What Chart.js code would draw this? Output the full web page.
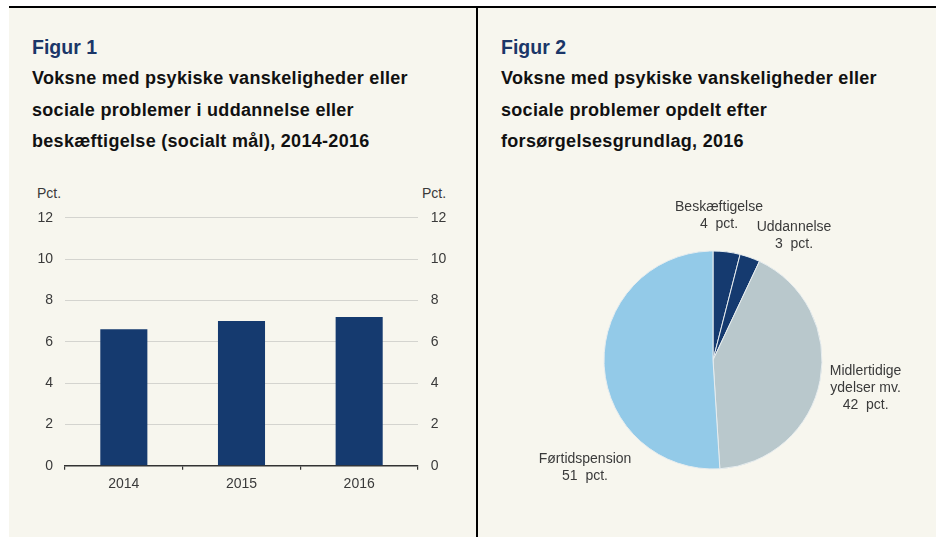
<!DOCTYPE html>
<html>
<head>
<meta charset="utf-8">
<script src="https://cdn.jsdelivr.net/npm/chart.js@4/dist/chart.umd.min.js"></script>
<style>
  html, body { margin: 0; padding: 0; background: #ffffff; width: 936px; height: 537px; overflow: hidden; }
  body { position: relative; font-family: "Liberation Sans", Arial, sans-serif; }
  #panel { position: absolute; left: 9px; top: 8px; width: 927px; height: 529px; background: #f7f6ee; }
  #topline { position: absolute; left: 9px; top: 6px; width: 927px; height: 2px; background: #000; }
  #vline { position: absolute; left: 476px; top: 6px; width: 2px; height: 531px; background: #000; }
  .fig { position: absolute; font-weight: bold; font-size: 19.5px; color: #1b3668; line-height: 24px; }
  .title { position: absolute; font-weight: bold; font-size: 18px; letter-spacing: 0.3px; color: #111; line-height: 31.5px; white-space: nowrap; }
  .unit { position: absolute; font-size: 14px; color: #3a3a3a; line-height: 16px; }
  canvas { position: absolute; }
</style>
</head>
<body>
<div id="panel"></div>
<div id="topline"></div>
<div id="vline"></div>

<div class="fig" style="left:32px; top:35px;">Figur 1</div>
<div class="title" style="left:32px; top:63px;">Voksne med psykiske vanskeligheder eller<br>sociale problemer i uddannelse eller<br>beskæftigelse (socialt mål), 2014-2016</div>
<div class="unit" style="left:37px; top:185px;">Pct.</div>
<div class="unit" style="left:422px; top:185px;">Pct.</div>

<div class="fig" style="left:501px; top:35px;">Figur 2</div>
<div class="title" style="left:501px; top:63px;">Voksne med psykiske vanskeligheder eller<br>sociale problemer opdelt efter<br>forsørgelsesgrundlag, 2016</div>

<canvas id="bar" width="476" height="345" style="left:0px; top:160px;"></canvas>
<canvas id="pie" width="458" height="357" style="left:478px; top:180px;"></canvas>

<script>
// ---- Figur 1 data ----
const years = ["2014", "2015", "2016"];
const shareValues = [6.6, 7.0, 7.2];
const yTicks = [0, 2, 4, 6, 8, 10, 12];

// ---- Figur 2 data ----
const pieCategories = [["Beskæftigelse"], ["Uddannelse"], ["Midlertidige", "ydelser mv."], ["Førtidspension"]];
const pieValues = [4, 3, 42, 51];
const pieColors = ["#153a6f", "#153a6f", "#b9c8cc", "#93cae8"];

const FONT = "'Liberation Sans', Arial, sans-serif";
const TXT = "#3a3a3a";
Chart.defaults.font.family = FONT;
Chart.defaults.font.size = 14;
Chart.defaults.color = TXT;
Chart.defaults.animation = false;

// Bar chart
new Chart(document.getElementById("bar"), {
  type: "bar",
  data: {
    labels: years,
    datasets: [{
      data: shareValues,
      backgroundColor: "#153a6f",
      borderWidth: 0,
      categoryPercentage: 1.0,
      barPercentage: 0.4,
      yAxisID: "y"
    }]
  },
  options: {
    responsive: false,
    devicePixelRatio: 1,
    layout: { padding: { top: 57.7, left: 0, right: 0, bottom: 0 } },
    plugins: { legend: { display: false }, tooltip: { enabled: false } },
    scales: {
      x: {
        grid: { display: true, drawOnChartArea: false, drawTicks: true, tickLength: 4, color: "#333333", lineWidth: 1.2, offset: true },
        border: { display: true, color: "#333333", width: 1.6 },
        ticks: { padding: 6, color: TXT, font: { size: 14 } },
        afterFit: s => { s.height = 39.3; }
      },
      y: {
        position: "left",
        min: 0, max: 12,
        afterBuildTicks: s => { s.ticks = yTicks.map(v => ({ value: v })); },
        grid: { drawTicks: false, color: c => (c.tick && c.tick.value === 0) ? "rgba(0,0,0,0)" : "#d4d4cf", lineWidth: 1 },
        border: { display: false },
        ticks: { padding: 12, color: TXT, font: { size: 14 } },
        afterFit: s => { s.width = 65; }
      },
      y2: {
        position: "right",
        min: 0, max: 12,
        afterBuildTicks: s => { s.ticks = yTicks.map(v => ({ value: v })); },
        grid: { drawOnChartArea: false, drawTicks: false },
        border: { display: false },
        ticks: { padding: 12.7, color: TXT, font: { size: 14 } },
        afterFit: s => { s.width = 58; }
      }
    }
  }
});

// Pie label plugin: positions expressed relative to each arc's centre and radius
const labelOffsets = [[0.055, -1.327], [0.743, -1.143], [1.40, 0.257], [-1.174, 0.986]];
const pieLabelPlugin = {
  id: "pieLabels",
  afterDatasetsDraw(chart) {
    const ctx = chart.ctx;
    const meta = chart.getDatasetMeta(0);
    ctx.save();
    ctx.font = "14px " + FONT;
    ctx.fillStyle = TXT;
    ctx.textAlign = "center";
    ctx.textBaseline = "middle";
    const lh = 16.7;
    meta.data.forEach((arc, i) => {
      const r = arc.outerRadius;
      const cx = arc.x + labelOffsets[i][0] * r;
      const cy = arc.y + labelOffsets[i][1] * r;
      const lines = pieCategories[i].concat([pieValues[i] + "  pct."]);
      const y0 = cy - (lines.length - 1) * lh / 2;
      lines.forEach((t, k) => ctx.fillText(t, cx, y0 + k * lh));
    });
    ctx.restore();
  }
};

new Chart(document.getElementById("pie"), {
  type: "pie",
  data: {
    labels: pieCategories.map(l => l.join(" ")),
    datasets: [{
      data: pieValues,
      backgroundColor: pieColors,
      borderColor: "#e6ecee",
      borderWidth: 1,
      radius: 109
    }]
  },
  options: {
    responsive: false,
    devicePixelRatio: 1,
    layout: { padding: { left: 12, top: 3, right: 0, bottom: 0 } },
    plugins: { legend: { display: false }, tooltip: { enabled: false } }
  },
  plugins: [pieLabelPlugin]
});
</script>
</body>
</html>
